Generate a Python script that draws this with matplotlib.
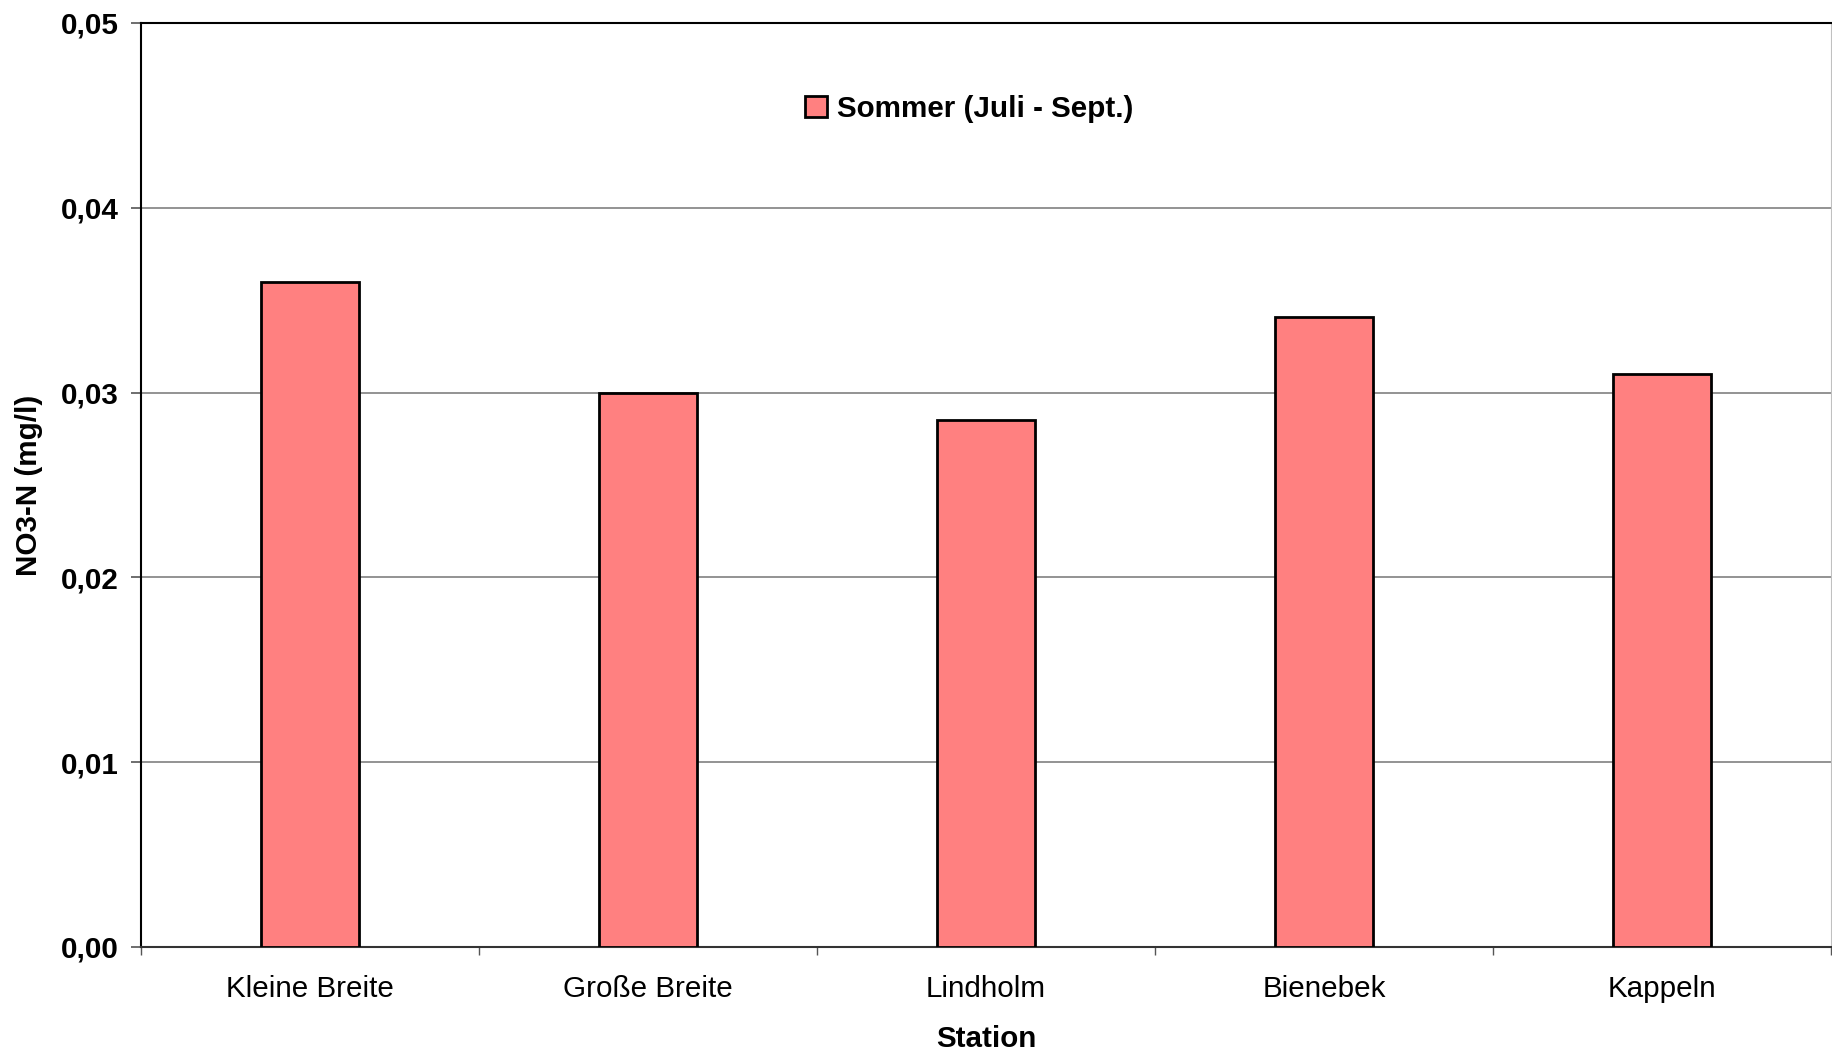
import numpy as np
import matplotlib.pyplot as plt
from matplotlib.ticker import FixedLocator, FuncFormatter

# Data
stations = ["Kleine Breite", "Große Breite", "Lindholm", "Bienebek", "Kappeln"]
sommer = [0.0360, 0.0300, 0.0285, 0.0341, 0.0310]
y_ticks = [0.00, 0.01, 0.02, 0.03, 0.04, 0.05]

plt.rcParams['font.family'] = ['Liberation Sans', 'DejaVu Sans']
fs = 21.3

fig = plt.figure(figsize=(18.32, 10.54), dpi=100)
ax = fig.add_axes([141 / 1832, 1 - 947 / 1054, 1690 / 1832, 924 / 1054])

x = np.arange(len(stations))
ax.bar(x, sommer, width=0.287, color='#FF8080', edgecolor='black', linewidth=2,
       label='Sommer (Juli - Sept.)', zorder=3)

ax.set_xlim(-0.5, len(stations) - 0.5)
ax.set_ylim(0, 0.05)
ax.yaxis.set_major_locator(FixedLocator(y_ticks))
ax.yaxis.set_major_formatter(FuncFormatter(lambda v, p: f"{v:.2f}".replace('.', ',')))
ax.grid(axis='y', color='#808080', linewidth=1.2, zorder=0)

# category labels centred, ticks on the boundaries
ax.set_xticks(x)
ax.set_xticklabels(stations, fontsize=fs)
ax.tick_params(axis='x', length=0, pad=20)
ax.set_xticks(np.arange(len(stations) + 1) - 0.5, minor=True)
ax.tick_params(axis='x', which='minor', length=6, width=1, color='#555555', direction='out')
ax.tick_params(axis='y', length=7, width=1.2, color='#555555', labelsize=fs, pad=9)
for lbl in ax.get_yticklabels():
    lbl.set_fontweight('bold')

ax.spines['left'].set_color('black')
ax.spines['left'].set_linewidth(1.5)
ax.spines['bottom'].set_color('#333333')
ax.spines['bottom'].set_linewidth(1.5)
ax.spines['top'].set_color('black')
ax.spines['top'].set_linewidth(1.5)
ax.spines['right'].set_color('#C0C0C0')

ax.set_xlabel('Station', fontsize=fs, fontweight='bold', labelpad=16)
ax.set_ylabel('NO3-N (mg/l)', fontsize=fs, fontweight='bold', labelpad=13)

ax.legend(loc='center', bbox_to_anchor=(0.49, 0.907), frameon=False,
          prop={'size': fs, 'weight': 'bold'}, handlelength=0.75, handleheight=0.75,
          handletextpad=0.35)

fig.savefig('out.png', dpi=100)
